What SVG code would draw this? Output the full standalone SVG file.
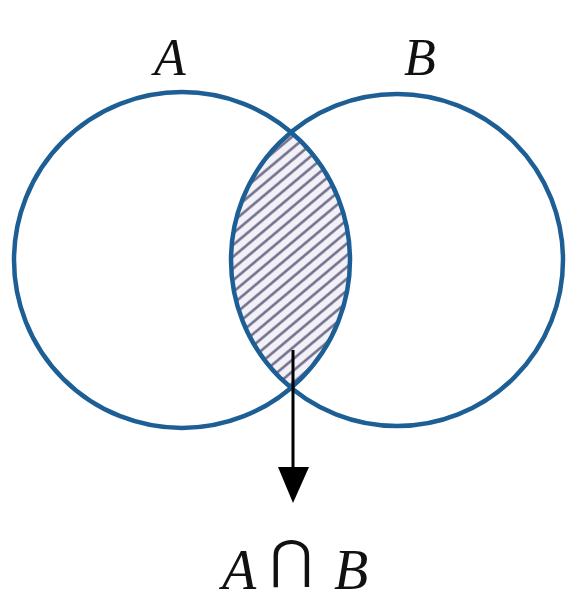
<svg xmlns="http://www.w3.org/2000/svg" width="568" height="603" viewBox="0 0 568 603">
<style>
.circ{fill:none;stroke:#1d5f95;stroke-width:4.5}
.lbl{font-family:"Liberation Serif","DejaVu Serif",serif;font-style:italic;font-size:52px;fill:#111}
.big{font-size:56px}
.sym{font-family:"DejaVu Serif","Liberation Serif",serif;font-style:normal;font-size:52px}
</style>
<defs>
<pattern id="hatch" patternUnits="userSpaceOnUse" width="9" height="9" patternTransform="rotate(-40)">
<rect width="9" height="9" fill="#f3f1f8"/>
<line x1="0" y1="4.5" x2="9" y2="4.5" stroke="#6a6684" stroke-width="2.4"/>
</pattern>
<clipPath id="clipL"><circle cx="182" cy="260" r="168"/></clipPath>
</defs>
<rect width="568" height="603" fill="#fff"/>
<g id="intersection">
<circle cx="397" cy="260" r="166" fill="url(#hatch)" clip-path="url(#clipL)"/>
</g>
<g id="setA">
<circle class="circ" cx="182" cy="260" r="168"/>
<text class="lbl" x="170" y="75" text-anchor="middle">A</text>
</g>
<g id="setB">
<circle class="circ" cx="397" cy="260" r="166"/>
<text class="lbl" x="420" y="75" text-anchor="middle">B</text>
</g>
<g id="connectors">
<line x1="293" y1="350" x2="293" y2="470" stroke="#000" stroke-width="3"/>
<path d="M278,467 L309,467 L293,503 z" fill="#000"/>
</g>
<g id="result">
<text class="lbl big" x="239" y="589" text-anchor="middle">A</text>
<text class="lbl sym" x="291" y="577" text-anchor="middle">⋂</text>
<text class="lbl big" x="351" y="589" text-anchor="middle">B</text>
</g>
</svg>
